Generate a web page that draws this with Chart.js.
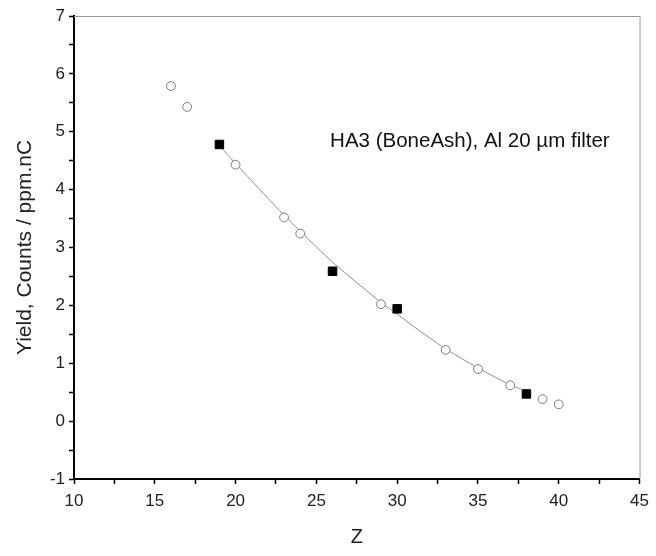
<!DOCTYPE html>
<html>
<head>
<meta charset="utf-8">
<script src="https://cdn.jsdelivr.net/npm/chart.js@4"></script>
<style>
  body { margin: 0; background: #fff; }
  #wrap { width: 656px; height: 556px; }
</style>
</head>
<body>
<div id="wrap"><canvas id="graph" width="656" height="556"></canvas></div>
<script>
// open circles
const circleZ = [16, 17, 20, 23, 24, 29, 33, 35, 37, 39, 40];
const circleYield = [5.79, 5.43, 4.43, 3.52, 3.24, 2.02, 1.23, 0.9, 0.62, 0.38, 0.29];

// filled squares
const squareZ = [19, 26, 30, 38];
const squareYield = [4.78, 2.59, 1.94, 0.47];

// fitted curve
const fitZ = [19, 20, 21, 22, 23, 24, 25, 26, 27, 28, 29, 30, 31, 32, 33, 34, 35, 36, 37, 37.7];
const fitYield = [4.76, 4.45, 4.15, 3.85, 3.56, 3.28, 3.01, 2.75, 2.51, 2.28, 2.05, 1.85, 1.64, 1.44, 1.25, 1.08, 0.92, 0.77, 0.63, 0.55];

const xTicks = [10, 15, 20, 25, 30, 35, 40, 45];
const yTicks = [-1, 0, 1, 2, 3, 4, 5, 6, 7];

const noteText = "HA3 (BoneAsh), Al 20 \u00b5m filter";
const notePos = { x: 34.5, y: 4.84 };

const fontFamily = "'Liberation Sans', Arial, sans-serif";

function toPoints(xs, ys) {
  return xs.map((x, i) => ({ x: x, y: ys[i] }));
}

// gray frame on top and right + the note text
const framePlugin = {
  id: "frame",
  afterDraw(chart) {
    const ctx = chart.ctx;
    const a = chart.chartArea;
    ctx.save();
    ctx.strokeStyle = "#9a9a9a";
    ctx.lineWidth = 1;
    ctx.beginPath();
    ctx.moveTo(a.left, a.top + 0.5);
    ctx.lineTo(a.right + 0.5, a.top + 0.5);
    ctx.lineTo(a.right + 0.5, a.bottom);
    ctx.stroke();

    const px = chart.scales.x.getPixelForValue(notePos.x);
    const py = chart.scales.y.getPixelForValue(notePos.y);
    ctx.fillStyle = "#111";
    ctx.font = "20.5px " + fontFamily;
    ctx.textAlign = "center";
    ctx.textBaseline = "middle";
    ctx.fillText(noteText, px, py);
    ctx.restore();
  },
};

new Chart(document.getElementById("graph"), {
  type: "scatter",
  data: {
    datasets: [
      {
        data: toPoints(squareZ, squareYield),
        pointStyle: "rect",
        pointRadius: 6,
        backgroundColor: "#000",
        borderColor: "#000",
        borderWidth: 1,
      },
      {
        data: toPoints(circleZ, circleYield),
        pointStyle: "circle",
        pointRadius: 4.4,
        backgroundColor: "#fff",
        borderColor: "#7a7a7a",
        borderWidth: 1,
      },
      {
        data: toPoints(fitZ, fitYield),
        showLine: true,
        pointRadius: 0,
        borderColor: "#8c8c8c",
        borderWidth: 1,
        tension: 0.4,
      },
    ],
  },
  options: {
    responsive: false,
    animation: false,
    devicePixelRatio: 1,
    layout: { padding: { top: 16, right: 12, left: 0, bottom: 0 } },
    plugins: {
      legend: { display: false },
      tooltip: { enabled: false },
    },
    scales: {
      x: {
        type: "linear",
        min: 10,
        max: 45,
        afterFit(scale) { scale.height = 77; },
        border: { display: true, color: "#000", width: 2 },
        grid: {
          drawOnChartArea: false,
          drawTicks: true,
          tickLength: 5,
          tickColor: "#000",
          tickWidth: 1.5,
        },
        ticks: {
          stepSize: 2.5,
          autoSkip: false,
          maxRotation: 0,
          padding: 7,
          color: "#222",
          font: { family: fontFamily, size: 17 },
          callback: (v) => (xTicks.includes(v) ? v : ""),
        },
        title: {
          display: true,
          text: "Z",
          color: "#222",
          font: { family: fontFamily, size: 20 },
          padding: { top: 0, bottom: 7 },
        },
      },
      y: {
        type: "linear",
        min: -1,
        max: 7,
        afterFit(scale) { scale.width = 74; },
        border: { display: true, color: "#000", width: 2 },
        grid: {
          drawOnChartArea: false,
          drawTicks: true,
          tickLength: 5,
          tickColor: "#000",
          tickWidth: 1.5,
        },
        ticks: {
          stepSize: 0.5,
          autoSkip: false,
          padding: 4,
          color: "#222",
          font: { family: fontFamily, size: 17 },
          callback: (v) => (yTicks.includes(v) ? v : ""),
        },
        title: {
          display: true,
          text: "Yield, Counts / ppm.nC",
          color: "#222",
          font: { family: fontFamily, size: 21 },
          padding: { top: 13, bottom: 0 },
        },
      },
    },
  },
  plugins: [framePlugin],
});
</script>
</body>
</html>
